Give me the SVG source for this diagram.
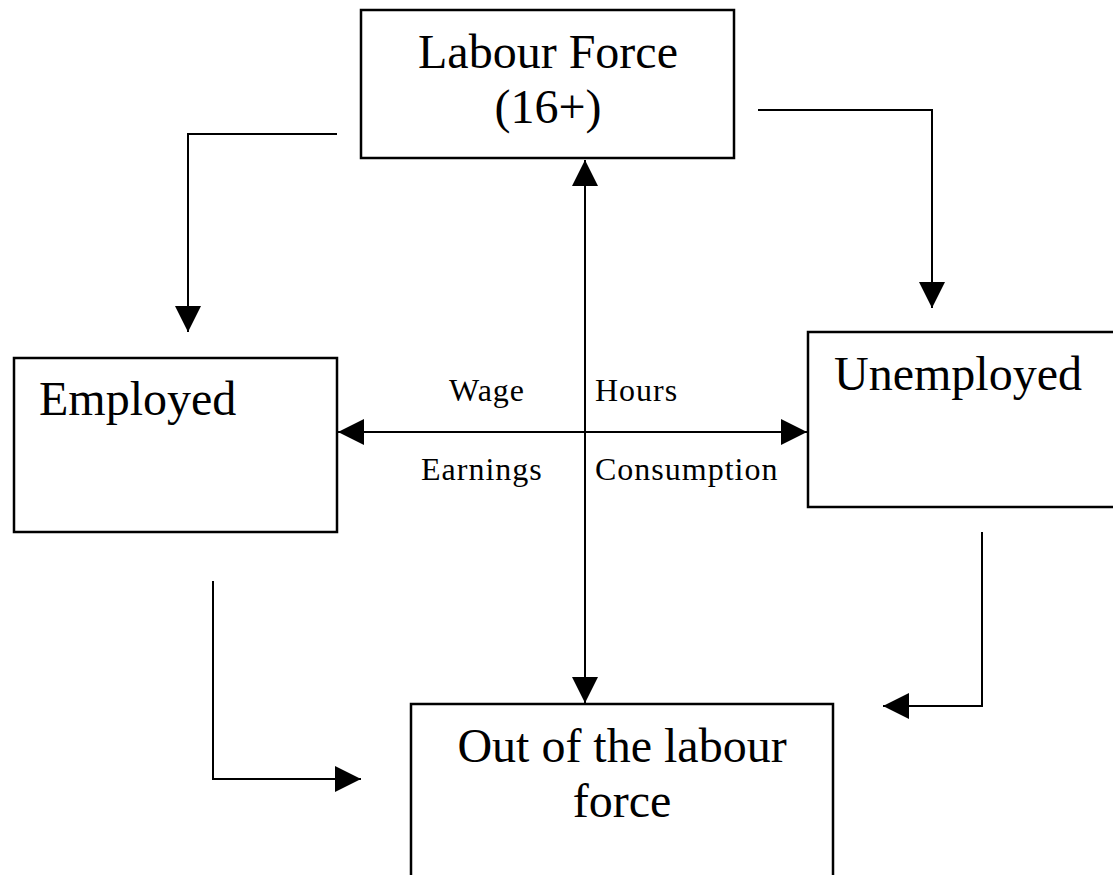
<svg xmlns="http://www.w3.org/2000/svg" width="1113" height="875" viewBox="0 0 1113 875">
<style>
.box{fill:#fff;stroke:#000;stroke-width:2.5}
.big{font-family:"Liberation Serif","Times New Roman",serif;font-size:48px;fill:#000}
.sm{font-family:"Liberation Serif","Times New Roman",serif;font-size:32px;letter-spacing:1px;fill:#000}
.ln{fill:none;stroke:#000;stroke-width:2}
</style>
<defs>
<marker id="ah" viewBox="0 0 26 26" refX="26" refY="13" markerWidth="26" markerHeight="26" markerUnits="userSpaceOnUse" orient="auto-start-reverse">
<path d="M0,0 L26,13 L0,26 Z" fill="#000"/>
</marker>
</defs>
<rect width="1113" height="875" fill="#fff"/>
<g id="connectors">
<path class="ln" d="M585,160 V703" marker-start="url(#ah)" marker-end="url(#ah)"/>
<path class="ln" d="M338,432 H807" marker-start="url(#ah)" marker-end="url(#ah)"/>
<path class="ln" d="M337,134 H188 V332" marker-end="url(#ah)"/>
<path class="ln" d="M758,110 H932 V308" marker-end="url(#ah)"/>
<path class="ln" d="M213,581 V779 H361" marker-end="url(#ah)"/>
<path class="ln" d="M982,532 V706 H883" marker-end="url(#ah)"/>
</g>
<g id="labels">
<text class="sm" x="449" y="401">Wage</text>
<text class="sm" x="595" y="401">Hours</text>
<text class="sm" x="421" y="480">Earnings</text>
<text class="sm" x="595" y="480">Consumption</text>
</g>
<g id="labour-force">
<rect class="box" x="361" y="10" width="373" height="148"/>
<text class="big" x="548" y="68" text-anchor="middle">Labour Force</text>
<text class="big" x="548" y="123" text-anchor="middle">(16+)</text>
</g>
<g id="employed">
<rect class="box" x="14" y="358" width="323" height="174"/>
<text class="big" x="39" y="415">Employed</text>
</g>
<g id="unemployed">
<rect class="box" x="808" y="332" width="320" height="175"/>
<text class="big" x="834" y="390">Unemployed</text>
</g>
<g id="out-of-labour-force">
<rect class="box" x="411" y="704" width="422" height="200"/>
<text class="big" x="622" y="762" text-anchor="middle">Out of the labour</text>
<text class="big" x="622" y="817" text-anchor="middle">force</text>
</g>
</svg>
